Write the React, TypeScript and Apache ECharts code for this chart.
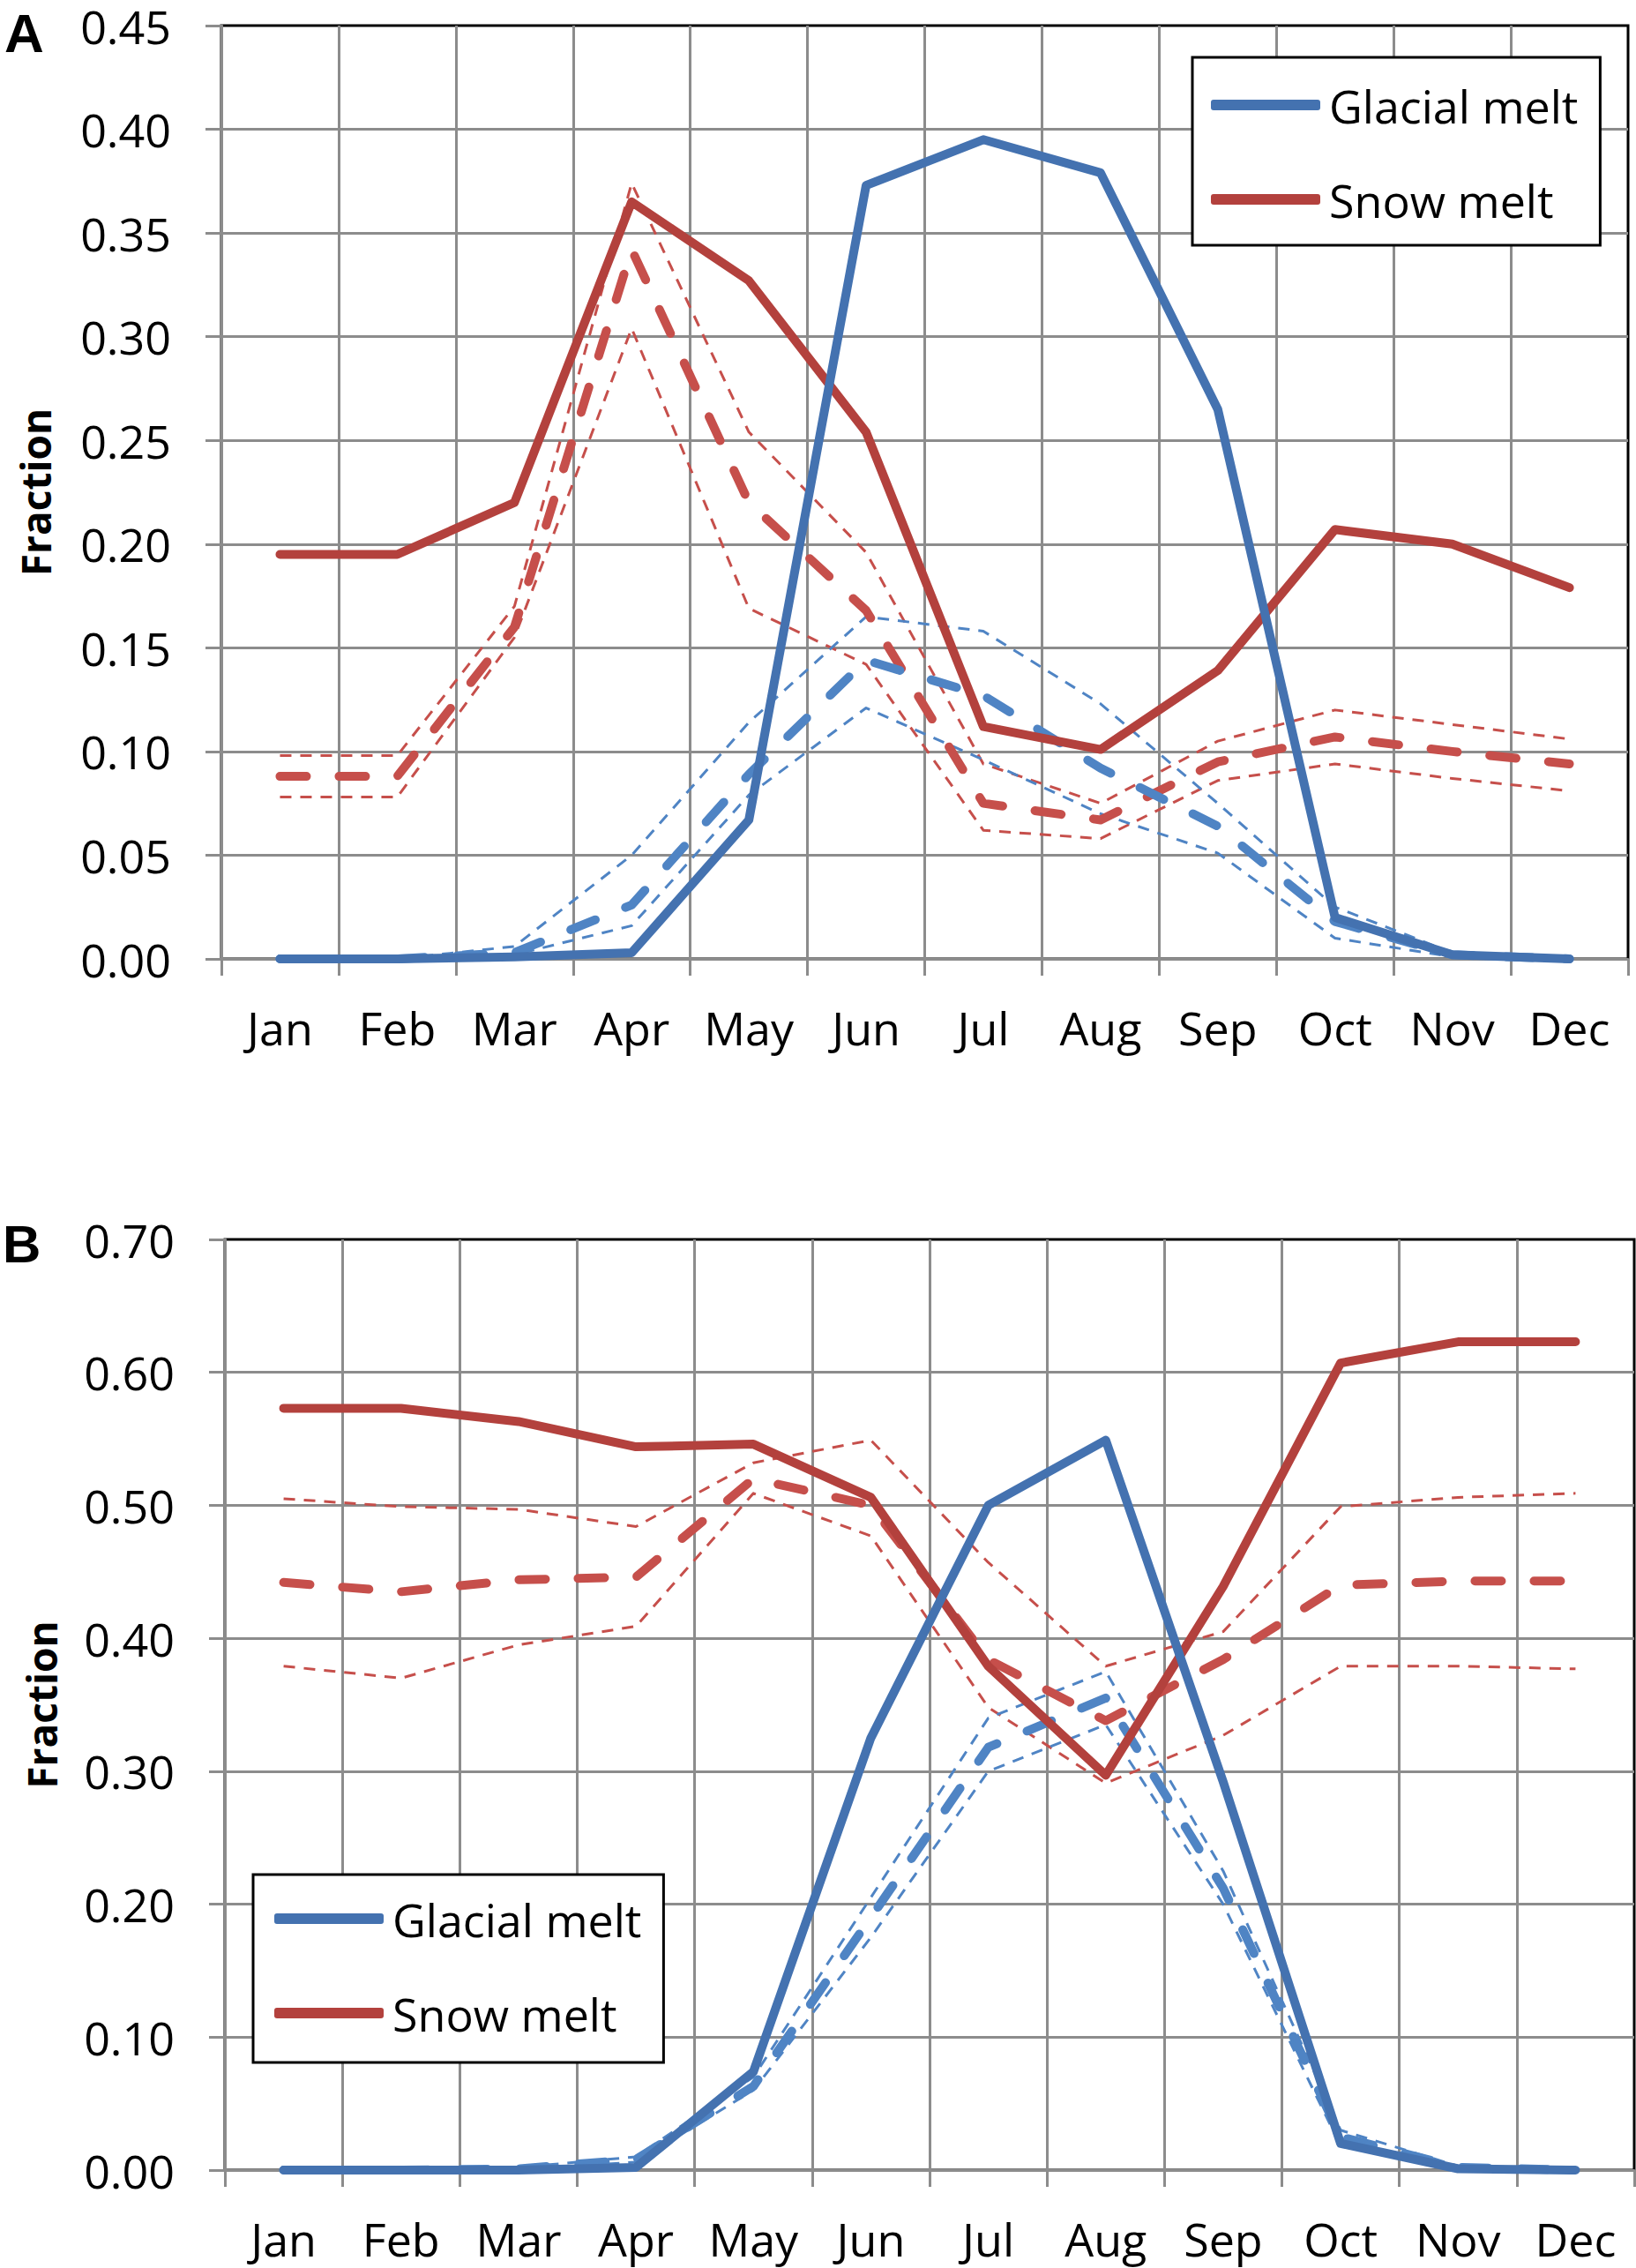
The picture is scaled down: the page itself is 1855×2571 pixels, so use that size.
import React, { useEffect, useRef } from "react";
import * as echarts from "echarts";

const months = ["Jan", "Feb", "Mar", "Apr", "May", "Jun", "Jul", "Aug", "Sep", "Oct", "Nov", "Dec"];

const yTicksA = [0, 0.05, 0.1, 0.15, 0.2, 0.25, 0.3, 0.35, 0.4, 0.45];
const yTicksB = [0, 0.1, 0.2, 0.3, 0.4, 0.5, 0.6, 0.7];

// Panel A
const glacialA = [0, 0, 0.001, 0.003, 0.067, 0.373, 0.395, 0.379, 0.265, 0.02, 0.002, 0];
const glacialMidA = [0, 0, 0.003, 0.026, 0.089, 0.144, 0.127, 0.092, 0.064, 0.018, 0.002, 0];
const glacialHiA = [0, 0, 0.006, 0.05, 0.114, 0.165, 0.158, 0.123, 0.075, 0.025, 0.003, 0];
const glacialLoA = [0, 0, 0.002, 0.016, 0.079, 0.121, 0.096, 0.07, 0.051, 0.01, 0.001, 0];
const snowA = [0.195, 0.195, 0.22, 0.365, 0.327, 0.254, 0.112, 0.101, 0.139, 0.207, 0.2, 0.179];
const snowMidA = [0.088, 0.088, 0.16, 0.342, 0.22, 0.168, 0.075, 0.067, 0.095, 0.107, 0.1, 0.094];
const snowHiA = [0.098, 0.098, 0.17, 0.374, 0.254, 0.196, 0.094, 0.075, 0.105, 0.12, 0.113, 0.106];
const snowLoA = [0.078, 0.078, 0.155, 0.304, 0.169, 0.142, 0.062, 0.058, 0.086, 0.094, 0.087, 0.081];

// Panel B
const glacialB = [0, 0, 0, 0.002, 0.074, 0.325, 0.5, 0.549, 0.292, 0.02, 0.001, 0];
const glacialMidB = [0, 0, 0.001, 0.008, 0.063, 0.19, 0.318, 0.355, 0.212, 0.025, 0.002, 0];
const glacialHiB = [0, 0, 0.002, 0.01, 0.07, 0.205, 0.34, 0.375, 0.225, 0.03, 0.003, 0];
const glacialLoB = [0, 0, 0, 0.006, 0.06, 0.175, 0.3, 0.335, 0.2, 0.018, 0.001, 0];
const snowB = [0.573, 0.573, 0.563, 0.544, 0.546, 0.506, 0.379, 0.297, 0.439, 0.607, 0.623, 0.623];
const snowMidB = [0.442, 0.435, 0.444, 0.446, 0.52, 0.5, 0.384, 0.338, 0.384, 0.44, 0.443, 0.443];
const snowHiB = [0.505, 0.499, 0.497, 0.484, 0.532, 0.549, 0.457, 0.379, 0.405, 0.499, 0.506, 0.509];
const snowLoB = [0.379, 0.37, 0.395, 0.409, 0.509, 0.477, 0.348, 0.291, 0.327, 0.379, 0.379, 0.377];

const legendNames = ["Glacial melt", "Snow melt"];

const BLUE = "#4472b0";
const BLUE_D = "#4f84c4";
const RED = "#b3413d";
const RED_D = "#c64f4b";
const GRID = "#8c8c8c";
const FONT = "'Open Sans', 'DejaVu Sans', sans-serif";

function lineSeries(name: string, idx: number, data: number[], color: string, kind: "solid" | "thick" | "thin") {
  const width = kind === "thin" ? 3 : 10;
  const type: any = kind === "solid" ? "solid" : kind === "thick" ? [30, 37] : [13, 10];
  return {
    type: "line",
    name,
    xAxisIndex: idx,
    yAxisIndex: idx,
    data,
    symbol: "none",
    showSymbol: false,
    clip: false,
    color,
    lineStyle: { color, width, type, cap: kind === "thin" ? "butt" : "round", join: "round" },
    emphasis: { disabled: true },
    z: kind === "solid" ? 4 : kind === "thick" ? 3 : 2,
  };
}

function panelSeries(idx: number, g: number[], gMid: number[], gHi: number[], gLo: number[], s: number[], sMid: number[], sHi: number[], sLo: number[]) {
  return [
    lineSeries("Snow melt (upper)", idx, sHi, RED_D, "thin"),
    lineSeries("Snow melt (lower)", idx, sLo, RED_D, "thin"),
    lineSeries("Glacial melt (upper)", idx, gHi, BLUE_D, "thin"),
    lineSeries("Glacial melt (lower)", idx, gLo, BLUE_D, "thin"),
    lineSeries("Snow melt (mean)", idx, sMid, RED_D, "thick"),
    lineSeries("Glacial melt (mean)", idx, gMid, BLUE_D, "thick"),
    lineSeries("Snow melt", idx, s, RED, "solid"),
    lineSeries("Glacial melt", idx, g, BLUE, "solid"),
  ];
}

function xAxisFor(idx: number) {
  return {
    type: "category",
    gridIndex: idx,
    data: months,
    boundaryGap: true,
    axisLine: { show: true, lineStyle: { color: GRID, width: 3 } },
    axisTick: { show: true, length: 19, interval: 0, lineStyle: { color: GRID, width: 3 } },
    axisLabel: { interval: 0, margin: 50, fontSize: 52, lineHeight: 54, fontFamily: FONT, color: "#000" },
    splitLine: { show: true, interval: 0, showMinLine: false, showMaxLine: false, lineStyle: { color: GRID, width: 3 } },
  };
}

function yAxisFor(idx: number, ticks: number[], nameGap: number) {
  return {
    type: "value",
    gridIndex: idx,
    min: ticks[0],
    max: ticks[ticks.length - 1],
    interval: ticks[1] - ticks[0],
    name: "Fraction",
    nameLocation: "middle",
    nameRotate: 90,
    nameGap,
    nameTextStyle: { fontFamily: FONT, fontWeight: "bold", fontSize: 46, color: "#000" },
    axisLine: { show: true, lineStyle: { color: GRID, width: 3 } },
    axisTick: { show: true, length: 18, lineStyle: { color: GRID, width: 3 } },
    axisLabel: { margin: 57, fontSize: 52, lineHeight: 50, fontFamily: FONT, color: "#000", formatter: (v: number) => v.toFixed(2) },
    splitLine: { show: true, showMinLine: false, showMaxLine: false, lineStyle: { color: GRID, width: 3 } },
  };
}

function legendAt(left: number, top: number, padding: number[]) {
  return {
    show: true,
    data: legendNames,
    orient: "vertical",
    left,
    top,
    icon: "roundRect",
    itemWidth: 124,
    itemHeight: 12,
    itemGap: 55,
    padding,
    borderColor: "#000",
    borderWidth: 3,
    backgroundColor: "#fff",
    selectedMode: false,
    textStyle: { fontFamily: FONT, fontSize: 52, lineHeight: 52, color: "#000", padding: [0, 0, 0, 5] },
  };
}

export default function App() {
  const ref = useRef<HTMLDivElement>(null);
  useEffect(() => {
    if (!ref.current) return;
    const chart = echarts.init(ref.current, undefined, { renderer: "svg" });
    chart.setOption({
      animation: false,
      backgroundColor: "#fff",
      grid: [
        { left: 251, top: 29, width: 1595, height: 1058, show: true, borderColor: "#000", borderWidth: 3 },
        { left: 255, top: 1405, width: 1598, height: 1055, show: true, borderColor: "#000", borderWidth: 3 },
      ],
      xAxis: [xAxisFor(0), xAxisFor(1)],
      yAxis: [yAxisFor(0, yTicksA, 188), yAxisFor(1, yTicksB, 185)],
      legend: [legendAt(1352, 65, [28, 25, 26, 21]), legendAt(287, 2125, [24, 25, 30, 24])],
      graphic: [
        {
          type: "text",
          left: 5,
          top: 6,
          style: { text: "A", fontFamily: "'Liberation Sans', Arial, sans-serif", fontWeight: "bold", fontSize: 62, fill: "#000" },
        },
        {
          type: "text",
          left: 3,
          top: 1380,
          style: { text: "B", fontFamily: "'Liberation Sans', Arial, sans-serif", fontWeight: "bold", fontSize: 60, fill: "#000" },
        },
      ],
      series: [
        ...panelSeries(0, glacialA, glacialMidA, glacialHiA, glacialLoA, snowA, snowMidA, snowHiA, snowLoA),
        ...panelSeries(1, glacialB, glacialMidB, glacialHiB, glacialLoB, snowB, snowMidB, snowHiB, snowLoB),
      ],
    });
    return () => chart.dispose();
  }, []);
  return <div ref={ref} style={{ position: "absolute", left: 0, top: 0, width: 1855, height: 2571 }} />;
}
